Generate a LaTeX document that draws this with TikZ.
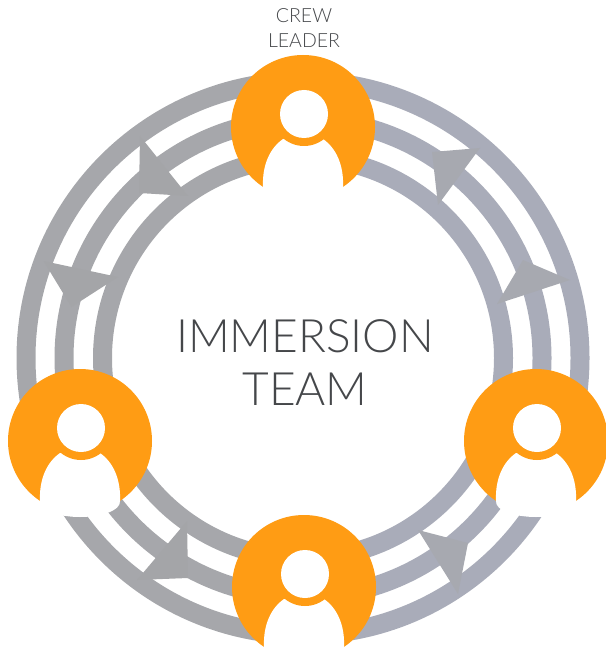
\documentclass[tikz,border=0pt]{standalone}
\usepackage{fontspec}
\setmainfont{Lato Light}
\definecolor{ringL}{HTML}{A6A7AB}
\definecolor{ringR}{HTML}{A9ACB9}
\definecolor{arrowgreyL}{HTML}{A4A5A8}
\definecolor{arrowgreyR}{HTML}{A7A9B0}
\definecolor{crew}{HTML}{FF9C14}
\definecolor{ink}{HTML}{45474A}
\tikzset{
  ringline/.style={line width=19pt,draw=#1},
  wedge/.style={fill=#1},
  big/.style={text=ink,font=\fontsize{46}{46}\selectfont,anchor=base,inner sep=0pt},
  small/.style={text=ink,font=\fontsize{19.5}{19.5}\selectfont,anchor=base,inner sep=0pt}
}
\newcommand{\personicon}[2]{%
  \begin{scope}[shift={(#1,#2)}]
    \fill[crew] (0,0) circle[radius=72pt];
    \fill[white] (-40,60) .. controls (-41,38) and (-33,21) .. (-20,12)
       -- (20,12) .. controls (33,21) and (41,38) .. (40,60)
       .. controls (41,70) and (20,76) .. (0,76)
       .. controls (-20,76) and (-41,70) .. (-40,60) -- cycle;
    \fill[crew] (1,-13) circle[radius=32pt];
    \fill[white] (1,-13) circle[radius=24pt];
  \end{scope}}
\begin{document}
\begin{tikzpicture}[x=1pt,y=-1pt]
\useasboundingbox (0,0) rectangle (605,660);
\coordinate (c) at (303,358);
\begin{scope}
  \clip (0,0) rectangle (303,660);
  \foreach \r in {277,239,200.5} \draw[ringline=ringL] (c) circle[radius=\r pt];
\end{scope}
\begin{scope}
  \clip (303,0) rectangle (605,660);
  \foreach \r in {277,239,200.5} \draw[ringline=ringR] (c) circle[radius=\r pt];
\end{scope}
% arrow wedges
\fill[wedge=arrowgreyR] (480,148) -- (438,205) -- (432,152) -- cycle;
\fill[wedge=arrowgreyR] (570,280) -- (497,304) -- (523,260) -- cycle;
\fill[wedge=arrowgreyR] (418,530) -- (458,594) -- (468,543) -- cycle;
\fill[wedge=arrowgreyL] (187,521) -- (137,580) -- (188,578) -- cycle;
\fill[wedge=arrowgreyL] (140,136) -- (188,196) -- (139,193) -- cycle;
\fill[wedge=arrowgreyL] (43.5,261) -- (118,277) -- (71.5,307) -- cycle;
% people
\personicon{303}{127}
\personicon{80}{441}
\personicon{536}{441}
\personicon{304}{587}
% text
\node[small] (crewt) at (304,23) {CREW};
\node[small] (leadert) at (304,48) {LEADER};
\node[big] (immt) at (305,352) {IMMERSION};
\node[big] (teamt) at (305,405) {TEAM};
\end{tikzpicture}
\end{document}
